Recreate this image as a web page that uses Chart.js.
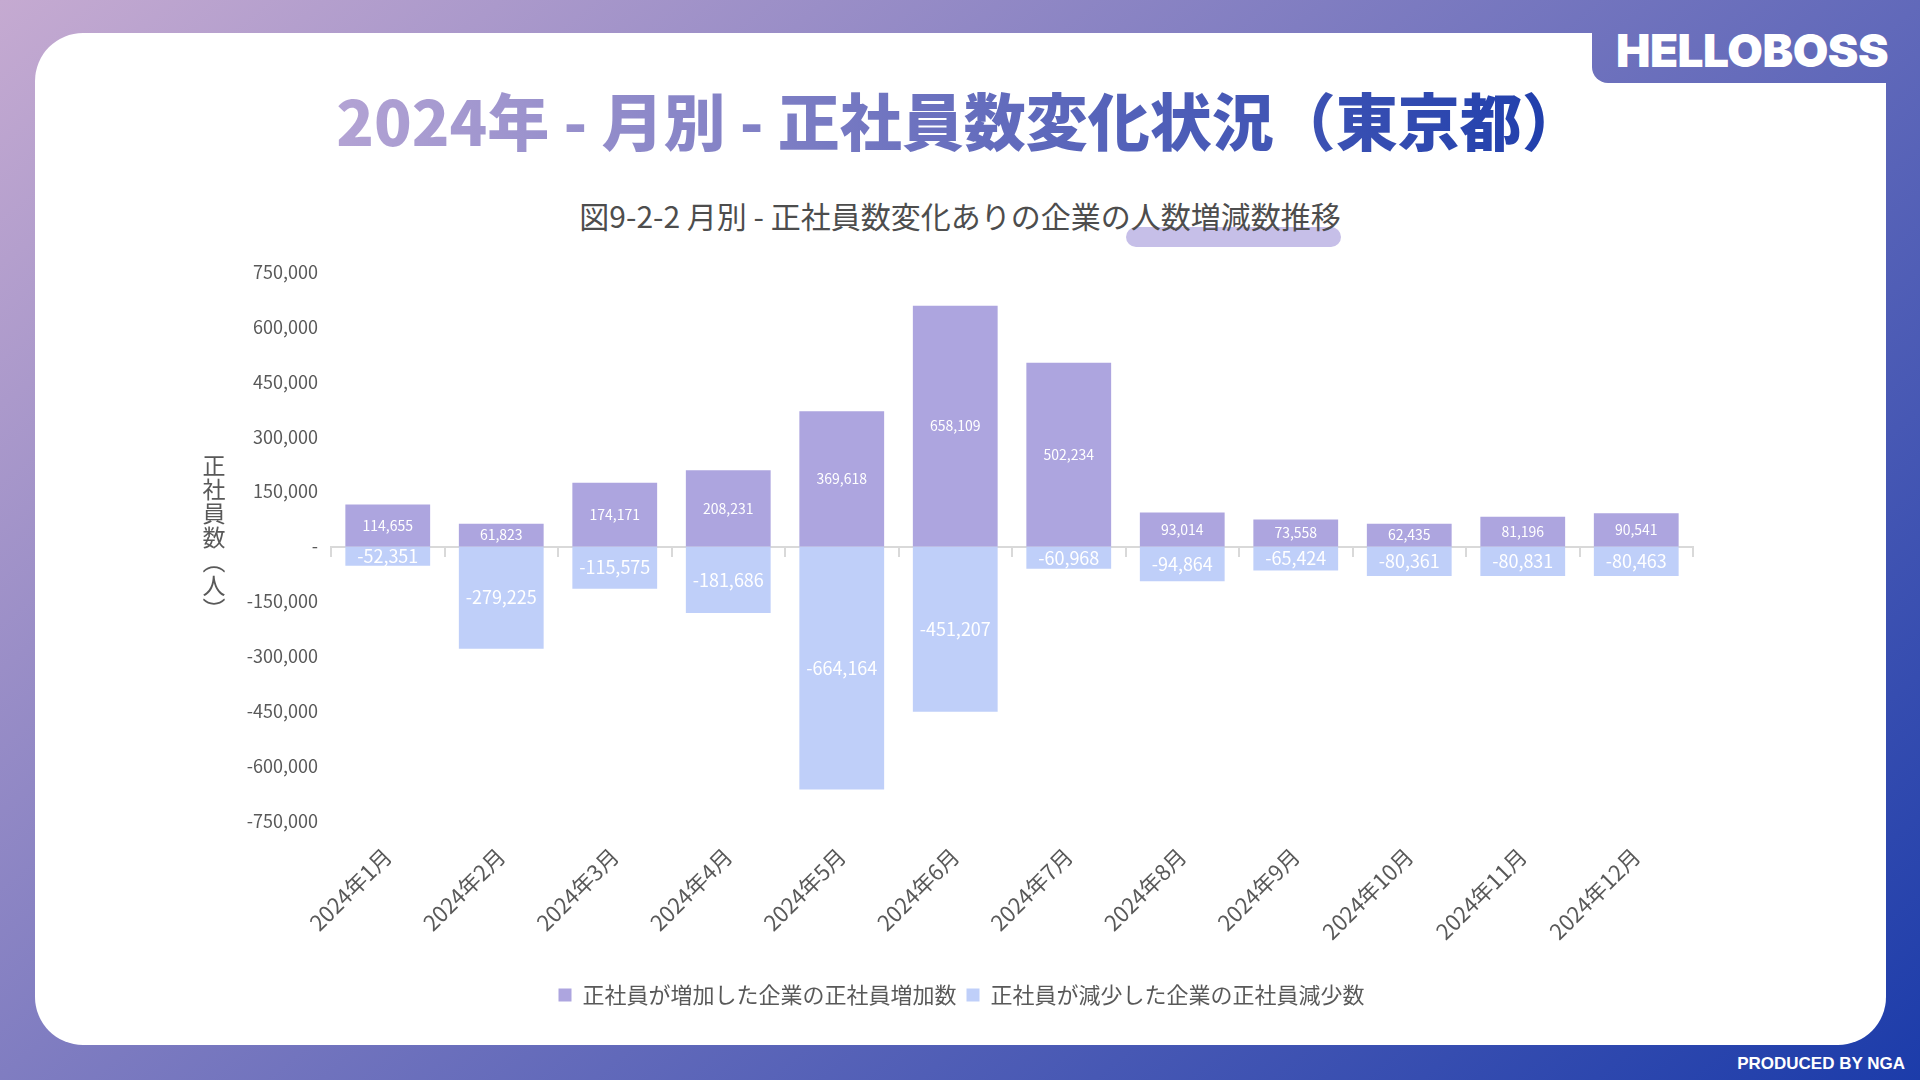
<!DOCTYPE html>
<html lang="ja">
<head>
<meta charset="utf-8">
<title>2024年 - 月別 - 正社員数変化状況（東京都）</title>
<script src="https://cdn.jsdelivr.net/npm/chart.js@4.4.1/dist/chart.umd.min.js"></script>
<style>
  html, body { margin: 0; padding: 0; }
  body {
    width: 1920px; height: 1080px; position: relative; overflow: hidden;
    background: linear-gradient(141deg, #c5aad1 0%, #1c3caa 100%);
    font-family: "Noto Sans CJK JP", "Noto Sans", sans-serif;
  }
  .card { position: absolute; left: 35px; top: 33px; width: 1851px; height: 1012px; background: #fff; border-radius: 48px; }
  .tab {
    position: absolute; left: 1592px; top: 0; width: 328px; height: 83px;
    background: linear-gradient(141deg, #c5aad1 0%, #1c3caa 100%);
    background-size: 1920px 1080px; background-position: -1592px 0;
    border-bottom-left-radius: 16px;
  }
  .logo {
    position: absolute; left: 1592px; top: 25px; width: 320px; text-align: center;
    font-family: Inter, "Open Sans", sans-serif; font-weight: 900; font-size: 46px; line-height: 50px;
    color: #fff; letter-spacing: -0.5px;
  }
  .credit {
    position: absolute; right: 15px; top: 1054px; font-family: "Liberation Sans", Arial, sans-serif;
    font-size: 17px; font-weight: bold; line-height: 20px; color: #fff;
  }
  .title { position: absolute; left: 0; top: 85px; width: 1920px; text-align: center; }
  .title span {
    display: inline-block; font-size: 62px; line-height: 68px; font-weight: 900;
    background: linear-gradient(90deg, #b3a3d4 0%, #6f74c0 45%, #1c3cab 100%);
    -webkit-background-clip: text; background-clip: text; color: transparent;
  }
  .pill { position: absolute; left: 1126px; top: 227px; width: 215px; height: 20px; border-radius: 10px; background: #c6bfe8; }
  .subtitle {
    position: absolute; left: 0; top: 197px; width: 1920px; text-align: center;
    font-size: 30px; line-height: 36px; color: #4d4d4d;
  }
  canvas { position: absolute; left: 0; top: 0; }
</style>
</head>
<body>
<div class="card"></div>
<div class="tab"></div>
<div class="logo">HELLOBOSS</div>
<div class="credit">PRODUCED BY NGA</div>
<div class="title"><span>2024年 - 月別 - 正社員数変化状況（東京都）</span></div>
<div class="pill"></div>
<div class="subtitle">図9-2-2 月別 - 正社員数変化ありの企業の人数増減数推移</div>
<canvas id="chart" width="1920" height="1080"></canvas>

<script>
// data
const months = ['2024年1月', '2024年2月', '2024年3月', '2024年4月', '2024年5月', '2024年6月',
  '2024年7月', '2024年8月', '2024年9月', '2024年10月', '2024年11月', '2024年12月']
const increase = [114655, 61823, 174171, 208231, 369618, 658109, 502234, 93014, 73558, 62435, 81196, 90541]
const decrease = [-52351, -279225, -115575, -181686, -664164, -451207, -60968, -94864, -65424, -80361, -80831, -80463]
const seriesNames = ['正社員が増加した企業の正社員増加数', '正社員が減少した企業の正社員減少数']
const yMin = -750000
const yMax = 750000
const yStep = 150000
const yTitleChars = ['正', '社', '員', '数', '︵', '人', '︶']

const FONT = '"Noto Sans CJK JP", "Noto Sans", sans-serif'
Chart.defaults.font.family = FONT
Chart.defaults.color = '#595959'

// white value labels inside each bar
const barLabels = {
  id: 'barLabels',
  afterDatasetsDraw(chart) {
    const ctx = chart.ctx
    ctx.save()
    ctx.fillStyle = '#ffffff'
    ctx.textAlign = 'center'
    ctx.textBaseline = 'middle'
    chart.data.datasets.forEach((ds, i) => {
      const meta = chart.getDatasetMeta(i)
      ctx.font = (i === 0 ? '14px ' : '18px ') + FONT
      meta.data.forEach((bar, j) => {
        const p = bar.getProps(['x', 'y', 'base'], true)
        ctx.fillText(ds.data[j].toLocaleString('en-US'), p.x, (p.y + p.base) / 2)
      })
    })
    ctx.restore()
  }
}

// upright, stacked y axis title
const yTitle = {
  id: 'yTitle',
  afterDraw(chart) {
    const ctx = chart.ctx
    const a = chart.chartArea
    ctx.save()
    ctx.font = '23px ' + FONT
    ctx.fillStyle = '#595959'
    ctx.textAlign = 'center'
    ctx.textBaseline = 'middle'
    const step = 24
    const cy = (a.top + a.bottom) / 2 - 9
    yTitleChars.forEach((c, i) => {
      ctx.fillText(c, a.left - 117, cy + (i - (yTitleChars.length - 1) / 2) * step)
    })
    ctx.restore()
  }
}

new Chart(document.getElementById('chart'), {
  type: 'bar',
  data: {
    labels: months,
    datasets: [{
      label: seriesNames[0],
      data: increase,
      backgroundColor: '#ada5df',
      categoryPercentage: 0.83,
      barPercentage: 0.9
    }, {
      label: seriesNames[1],
      data: decrease,
      backgroundColor: '#bfcff9',
      categoryPercentage: 0.83,
      barPercentage: 0.9
    }]
  },
  options: {
    responsive: false,
    animation: false,
    layout: { padding: { top: 272, left: 230, right: 227, bottom: 64 } },
    plugins: {
      legend: {
        position: 'bottom',
        labels: { boxWidth: 13, boxHeight: 13, padding: 10, color: '#595959', font: { size: 22 } }
      },
      tooltip: { enabled: false }
    },
    scales: {
      x: {
        stacked: true,
        grid: { display: false, drawTicks: false },
        border: { display: false },
        ticks: { color: '#595959', font: { size: 22 }, maxRotation: 45, minRotation: 45, padding: 22, autoSkip: false },
        afterFit(s) { s.height = 153 }
      },
      x2: {
        axis: 'x',
        type: 'category',
        labels: months,
        position: { y: 0 },
        offset: true,
        z: 1,
        grid: { offset: true, drawOnChartArea: false, drawTicks: true, tickLength: 9, color: '#d9d9d9', lineWidth: 2 },
        border: { display: true, color: '#d9d9d9', width: 2 },
        ticks: { display: false }
      },
      y: {
        stacked: true,
        min: yMin,
        max: yMax,
        grid: { display: false, drawTicks: false },
        border: { display: false },
        ticks: {
          stepSize: yStep,
          padding: 13,
          color: '#595959',
          font: { size: 18 },
          callback: v => v === 0 ? '-' : v.toLocaleString('en-US')
        },
        afterFit(s) { s.width = 101 }
      }
    }
  },
  plugins: [barLabels, yTitle]
})
</script>
</body>
</html>
